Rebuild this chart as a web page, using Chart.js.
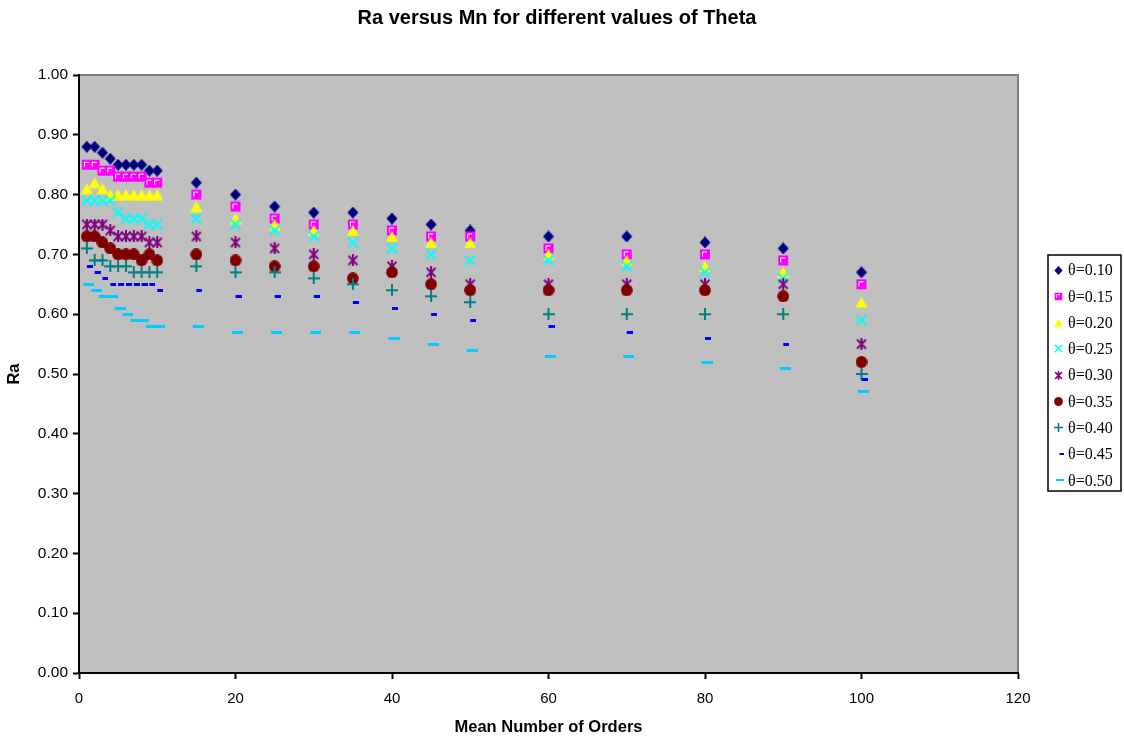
<!DOCTYPE html>
<html>
<head>
<meta charset="utf-8">
<script src="https://cdn.jsdelivr.net/npm/chart.js@4.4.1/dist/chart.umd.min.js"></script>
<style>
  html, body { margin: 0; padding: 0; background: #fff; }
  #wrap { width: 1124px; height: 740px; }
</style>
</head>
<body>
<div id="wrap"><canvas id="myChart" width="1124" height="740"></canvas></div>
<script>
// Mean number of orders (x)
const mn = [1, 2, 3, 4, 5, 6, 7, 8, 9, 10, 15, 20, 25, 30, 35, 40, 45, 50, 60, 70, 80, 90, 100];

// Ra for each theta
const t010 = [0.88, 0.88, 0.87, 0.86, 0.85, 0.85, 0.85, 0.85, 0.84, 0.84, 0.82, 0.80, 0.78, 0.77, 0.77, 0.76, 0.75, 0.74, 0.73, 0.73, 0.72, 0.71, 0.67];
const t015 = [0.85, 0.85, 0.84, 0.84, 0.83, 0.83, 0.83, 0.83, 0.82, 0.82, 0.80, 0.78, 0.76, 0.75, 0.75, 0.74, 0.73, 0.73, 0.71, 0.70, 0.70, 0.69, 0.65];
const t020 = [0.81, 0.82, 0.81, 0.80, 0.80, 0.80, 0.80, 0.80, 0.80, 0.80, 0.78, 0.76, 0.75, 0.74, 0.74, 0.73, 0.72, 0.72, 0.70, 0.69, 0.68, 0.67, 0.62];
const t025 = [0.79, 0.79, 0.79, 0.79, 0.77, 0.76, 0.76, 0.76, 0.75, 0.75, 0.76, 0.75, 0.74, 0.73, 0.72, 0.71, 0.70, 0.69, 0.69, 0.68, 0.67, 0.66, 0.59];
const t030 = [0.75, 0.75, 0.75, 0.74, 0.73, 0.73, 0.73, 0.73, 0.72, 0.72, 0.73, 0.72, 0.71, 0.70, 0.69, 0.68, 0.67, 0.65, 0.65, 0.65, 0.65, 0.65, 0.55];
const t035 = [0.73, 0.73, 0.72, 0.71, 0.70, 0.70, 0.70, 0.69, 0.70, 0.69, 0.70, 0.69, 0.68, 0.68, 0.66, 0.67, 0.65, 0.64, 0.64, 0.64, 0.64, 0.63, 0.52];
const t040 = [0.71, 0.69, 0.69, 0.68, 0.68, 0.68, 0.67, 0.67, 0.67, 0.67, 0.68, 0.67, 0.67, 0.66, 0.65, 0.64, 0.63, 0.62, 0.60, 0.60, 0.60, 0.60, 0.50];
const t045 = [0.68, 0.67, 0.66, 0.65, 0.65, 0.65, 0.65, 0.65, 0.65, 0.64, 0.64, 0.63, 0.63, 0.63, 0.62, 0.61, 0.60, 0.59, 0.58, 0.57, 0.56, 0.55, 0.49];
const t050 = [0.65, 0.64, 0.63, 0.63, 0.61, 0.60, 0.59, 0.59, 0.58, 0.58, 0.58, 0.57, 0.57, 0.57, 0.57, 0.56, 0.55, 0.54, 0.53, 0.53, 0.52, 0.51, 0.47];

const seriesNames = ['θ=0.10', 'θ=0.15', 'θ=0.20', 'θ=0.25', 'θ=0.30', 'θ=0.35', 'θ=0.40', 'θ=0.45', 'θ=0.50'];
const seriesValues = [t010, t015, t020, t025, t030, t035, t040, t045, t050];

const yTicks = [0, 0.1, 0.2, 0.3, 0.4, 0.5, 0.6, 0.7, 0.8, 0.9, 1.0];
const xTicks = [0, 20, 40, 60, 80, 100, 120];

(function(){
    const grafico = document.getElementById('myChart');
    Chart.defaults.font.family = "'Liberation Sans', Arial, sans-serif";
    Chart.defaults.color = '#000';

    // excel-like markers drawn on small canvases
    function marker(kind, s) {
        const c = document.createElement('canvas');
        const ctx = c.getContext('2d');
        let w = 12, h = 12;
        if (kind === 'dashS') { w = 12; h = 3; }
        if (kind === 'dashL') { w = 15; h = 3; }
        c.width = Math.round(w * s); c.height = Math.round(h * s);
        ctx.scale(s, s);
        switch (kind) {
            case 'diamond':
                ctx.fillStyle = '#000080';
                ctx.beginPath(); ctx.moveTo(6, 0); ctx.lineTo(11.5, 6); ctx.lineTo(6, 12); ctx.lineTo(0.5, 6); ctx.closePath(); ctx.fill();
                break;
            case 'square':
                ctx.fillStyle = '#FF00FF';
                ctx.fillRect(1, 1, 10, 10);
                ctx.strokeStyle = '#fff'; ctx.lineWidth = 1;
                ctx.beginPath(); ctx.moveTo(3.5, 8); ctx.lineTo(3.5, 3.5); ctx.lineTo(8, 3.5); ctx.stroke();
                break;
            case 'triangle':
                ctx.fillStyle = '#FFFF00';
                ctx.beginPath(); ctx.moveTo(6, 0.5); ctx.lineTo(12, 11.5); ctx.lineTo(0, 11.5); ctx.closePath(); ctx.fill();
                break;
            case 'xmark':
                ctx.strokeStyle = '#00FFFF'; ctx.lineWidth = 2;
                ctx.beginPath(); ctx.moveTo(1, 1); ctx.lineTo(11, 11); ctx.moveTo(11, 1); ctx.lineTo(1, 11); ctx.stroke();
                break;
            case 'star':
                ctx.strokeStyle = '#800080'; ctx.lineWidth = 2;
                ctx.beginPath(); ctx.moveTo(1.5, 1.5); ctx.lineTo(10.5, 10.5); ctx.moveTo(10.5, 1.5); ctx.lineTo(1.5, 10.5);
                ctx.moveTo(6, 0); ctx.lineTo(6, 12); ctx.stroke();
                break;
            case 'circle':
                ctx.fillStyle = '#800000';
                ctx.beginPath(); ctx.arc(6, 6, 5.9, 0, Math.PI * 2); ctx.fill();
                break;
            case 'plus':
                ctx.strokeStyle = '#008080'; ctx.lineWidth = 2;
                ctx.beginPath(); ctx.moveTo(0, 6); ctx.lineTo(12, 6); ctx.moveTo(6, 0); ctx.lineTo(6, 12); ctx.stroke();
                break;
            case 'dashS':
                ctx.fillStyle = '#0000FF';
                ctx.fillRect(6, 0, 6, 3);
                break;
            case 'dashL':
                ctx.fillStyle = '#00CCFF';
                ctx.fillRect(4, 0, 11, 3);
                break;
        }
        return c;
    }

    const kinds = ['diamond', 'square', 'triangle', 'xmark', 'star', 'circle', 'plus', 'dashS', 'dashL'];
    const colores = ['#000080', '#FF00FF', '#FFFF00', '#00FFFF', '#800080', '#800000', '#008080', '#0000FF', '#00CCFF'];
    const plotMarkers = kinds.map(k => marker(k, 1));
    const legendMarkers = kinds.map(k => marker(k, 0.75));

    const datasets = seriesValues.map((vals, i) => ({
        label: seriesNames[i],
        data: mn.map((x, j) => ({ x: x, y: vals[j] })),
        showLine: false,
        pointStyle: plotMarkers[i],
        pointRadius: 6,
        backgroundColor: colores[i],
        borderColor: colores[i],
        order: 9 - i
    }));

    const fondo = {
        id: 'fondo',
        beforeDraw(chart) {
            const { ctx, chartArea: a } = chart;
            ctx.save();
            ctx.fillStyle = '#fff';
            ctx.fillRect(0, 0, chart.width, chart.height);
            ctx.fillStyle = '#C0C0C0';
            ctx.fillRect(a.left, a.top, a.right - a.left, a.bottom - a.top);
            ctx.strokeStyle = '#808080';
            ctx.lineWidth = 2;
            ctx.beginPath();
            ctx.moveTo(a.left, a.top);
            ctx.lineTo(a.right, a.top);
            ctx.lineTo(a.right, a.bottom);
            ctx.stroke();
            ctx.restore();
        },
        afterDraw(chart) {
            const ctx = chart.ctx;
            ctx.save();
            // title
            ctx.fillStyle = '#000';
            ctx.font = "bold 20px 'Liberation Sans', Arial, sans-serif";
            ctx.textAlign = 'center';
            ctx.textBaseline = 'middle';
            ctx.fillText('Ra versus Mn for different values of Theta', 557, 18);
            // legend
            const lx = 1048, ly = 255, lw = 73, lh = 236;
            ctx.fillStyle = '#fff';
            ctx.fillRect(lx, ly, lw, lh);
            ctx.strokeStyle = '#000';
            ctx.lineWidth = 1.5;
            ctx.strokeRect(lx, ly, lw, lh);
            ctx.font = "16px 'Liberation Serif', 'Times New Roman', serif";
            ctx.textAlign = 'left';
            ctx.fillStyle = '#000';
            seriesNames.forEach((name, i) => {
                const y = 270 + i * 26.3;
                const m = legendMarkers[i];
                let mx = 1058;
                if (i === 7) mx = 1059;
                ctx.drawImage(m, Math.round(mx - m.width / 2), Math.round(y - m.height / 2));
                ctx.fillText(name, 1068, y + 1);
            });
            ctx.restore();
        }
    };

    const config = {
        type: 'scatter',
        data: { datasets: datasets },
        options: {
            responsive: false,
            animation: false,
            layout: { padding: { top: 75, right: 106, left: 0, bottom: 0 } },
            plugins: {
                legend: { display: false },
                tooltip: { enabled: false },
                title: { display: false }
            },
            scales: {
                x: {
                    type: 'linear',
                    min: 0,
                    max: 120,
                    afterFit: s => { s.height = 67; },
                    afterBuildTicks: s => { s.ticks = xTicks.map(v => ({ value: v })); },
                    ticks: { font: { size: 15 }, padding: 11, color: '#000', callback: v => String(v) },
                    grid: { drawOnChartArea: false, tickLength: 6, tickColor: '#000', tickWidth: 2 },
                    border: { color: '#000', width: 2 },
                    title: { display: true, text: 'Mean Number of Orders', font: { size: 16.5, weight: 'bold' }, color: '#000', padding: { top: 3, bottom: 3 } }
                },
                y: {
                    type: 'linear',
                    min: 0,
                    max: 1,
                    afterFit: s => { s.width = 79; },
                    afterBuildTicks: s => { s.ticks = yTicks.map(v => ({ value: v })); },
                    ticks: { font: { size: 15.5 }, padding: 5, color: '#000', callback: v => v.toFixed(2) },
                    grid: { drawOnChartArea: false, tickLength: 6, tickColor: '#000', tickWidth: 2 },
                    border: { color: '#000', width: 2 },
                    title: { display: true, text: 'Ra', font: { size: 16.5, weight: 'bold' }, color: '#000', padding: { top: 5, bottom: 3 } }
                }
            }
        },
        plugins: [fondo]
    };

    new Chart(grafico, config);
})();
</script>
</body>
</html>
